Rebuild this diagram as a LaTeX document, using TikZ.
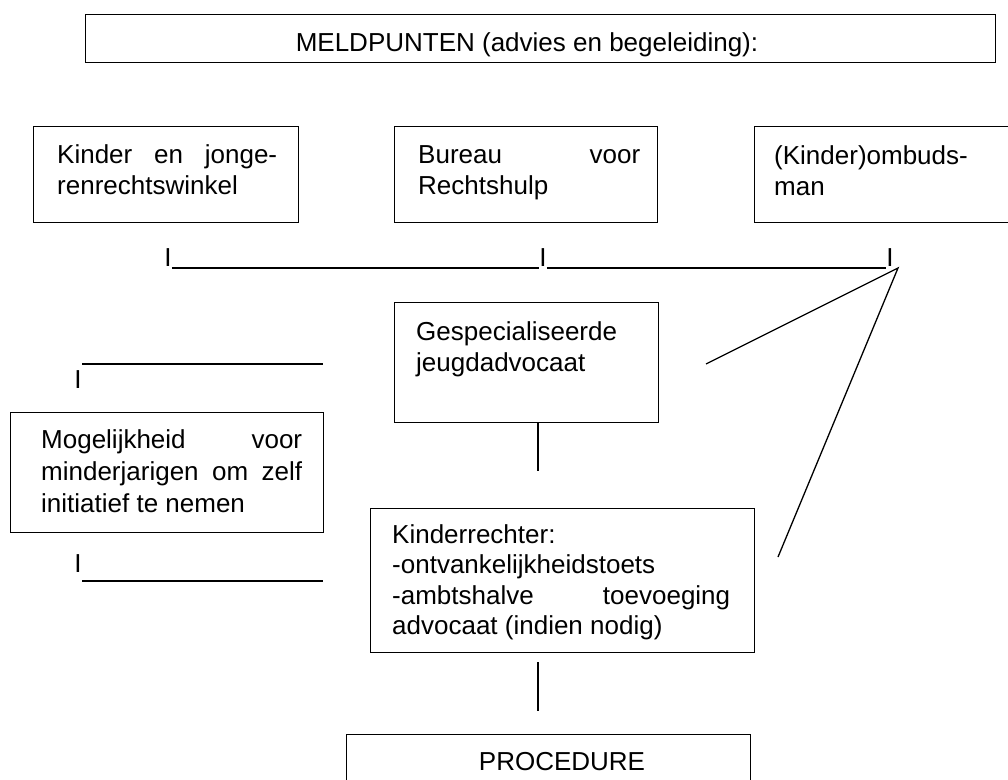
\documentclass[tikz,border=0pt]{standalone}
\usepackage{fontspec}
\setmainfont{Liberation Sans}

\tikzset{
  box/.style={draw, line width=1.3pt, anchor=north west, inner sep=0pt},
  txt/.style={anchor=base west, inner sep=0pt, font=\fontsize{26}{31}\selectfont},
  conn/.style={line width=1.3pt},
}
\newcommand{\jline}[1]{\makebox[\linewidth][s]{#1}}

\begin{document}
\begin{tikzpicture}[x=1pt, y=-1pt]
        \useasboundingbox (0,0) rectangle (1008,779);
        % --- top ---
        \node[box, minimum width=910, minimum height=48] (meld) at (85,14) {};
        \node[txt, anchor=base] (meldtxt) at (527,51) {MELDPUNTEN (advies en begeleiding):};
        % --- meldpunten ---
        \node[box, minimum width=265, minimum height=96] (kj) at (33,126) {};
        \node[txt] (kjtxt) at (57,163) {\parbox[t]{220pt}{\jline{Kinder en jonge-}\\renrechtswinkel}};
        \node[box, minimum width=263, minimum height=96] (br) at (394,126) {};
        \node[txt] (brtxt) at (418,163) {\parbox[t]{222pt}{\jline{Bureau voor}\\Rechtshulp}};
        \node[box, minimum width=265, minimum height=96] (om) at (754,126) {};
        \node[txt] (omtxt) at (774,164) {\parbox[t]{210pt}{(Kinder)ombuds-\\man}};
        % --- I___I___I ---
        \node[txt, anchor=base] (i1) at (168,266) {I};
        \node[txt, anchor=base] (i2) at (543,266) {I};
        \node[txt, anchor=base] (i3) at (890,266) {I};
        \draw[conn] ([yshift=-2pt]i1.base east) -- ([yshift=-2pt]i2.base west);
        \draw[conn] ([yshift=-2pt]i2.base east) -- ([yshift=-2pt]i3.base west);
        % --- advocaat ---
        \node[box, minimum width=264, minimum height=120] (gs) at (394,302) {};
        \node[txt] (gstxt) at (416,340) {\parbox[t]{230pt}{Gespecialiseerde\\jeugdadvocaat}};
        \coordinate (gsb) at (538,471);
        \draw[conn] (gs.south -| gsb) -- (gsb);
        % --- minderjarigen ---
        \node[txt, anchor=base] (ia) at (78,388) {I};
        \coordinate (la) at (82,364);
        \coordinate (lb) at (323,364);
        \draw[conn] (la) -- (lb);
        \node[box, minimum width=313, minimum height=120] (mg) at (10,412) {};
        \node[txt, font=\fontsize{26}{32}\selectfont] (mgtxt) at (41,448) {\parbox[t]{261pt}{\jline{Mogelijkheid voor}\\\jline{minderjarigen om zelf}\\initiatief te nemen}};
        \node[txt, anchor=base] (ib) at (78,572) {I};
        \coordinate (lc) at (82,581);
        \coordinate (ld) at (323,581);
        \draw[conn] (lc) -- (ld);
        % --- kinderrechter ---
        \node[box, minimum width=384, minimum height=144] (kr) at (370,508) {};
        \node[txt, font=\fontsize{26}{30.5}\selectfont] (krtxt) at (392,543) {\parbox[t]{338pt}{Kinderrechter:\\-ontvankelijkheidstoets\\\jline{-ambtshalve toevoeging}\\advocaat (indien nodig)}};
        \coordinate (kra) at (538,662);
        \coordinate (krb) at (538,711);
        \draw[conn] (kra) -- (krb);
        % --- ombudsman lines ---
        \coordinate (apex) at (898,268);
        \coordinate (gsr) at (706,364);
        \coordinate (krr) at (778,557);
        \draw[conn] (gsr) -- (apex) -- (krr);
        % --- procedure ---
        \node[box, minimum width=404, minimum height=60] (pr) at (346,734) {};
        \node[txt, anchor=base] (prtxt) at (562,770) {PROCEDURE};
        % ---
\end{tikzpicture}
\end{document}
